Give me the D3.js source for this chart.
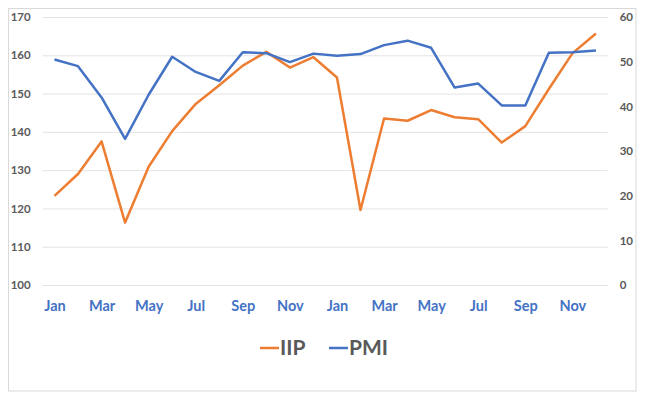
<!DOCTYPE html>
<html>
<head>
<meta charset="utf-8">
<script src="https://cdn.jsdelivr.net/npm/d3@7"></script>
<style>
  body { margin: 0; background: #fff; }
  text { font-family: Lato, "Open Sans", sans-serif; font-weight: bold; }
</style>
</head>
<body>
<div id="chart"></div>
<script>
var width = 647, height = 399;

// two years of monthly data
var months = ["Jan","Feb","Mar","Apr","May","Jun","Jul","Aug","Sep","Oct","Nov","Dec",
              "Jan","Feb","Mar","Apr","May","Jun","Jul","Aug","Sep","Oct","Nov","Dec"];
var iip = [123.3, 129.0, 137.5, 116.3, 130.9, 140.2, 147.3, 152.2, 157.3, 160.9, 156.8, 159.5,
           154.2, 119.6, 143.5, 142.9, 145.7, 143.8, 143.3, 137.2, 141.5, 151.2, 160.5, 165.7];
var pmi = [50.5, 49.0, 42.0, 32.7, 42.6, 51.1, 47.7, 45.7, 52.1, 51.9, 49.9, 51.8,
           51.3, 51.7, 53.7, 54.7, 53.1, 44.2, 45.1, 40.2, 40.2, 52.0, 52.1, 52.5];
var leftTicks = [100, 110, 120, 130, 140, 150, 160, 170];
var rightTicks = [0, 10, 20, 30, 40, 50, 60];
var seriesNames = ["IIP", "PMI"];
var colors = {IIP: "#ED7D31", PMI: "#4472C4"};

var idx = d3.range(months.length);
var plot = {left: 42.7, right: 607.7, top: 17, bottom: 285};

var svg = d3.select("#chart").append("svg")
    .attr("width", width)
    .attr("height", height);

// outer chart border
svg.append("rect")
    .attr("x", 8.5).attr("y", 8.5)
    .attr("width", 627.5).attr("height", 382.5)
    .attr("fill", "none")
    .attr("stroke", "#D9D9D9");

var x = d3.scalePoint()
    .domain(idx)
    .range([plot.left, plot.right])
    .padding(0.5);
var yL = d3.scaleLinear().domain([100, 170]).range([plot.bottom, plot.top]);
var yR = d3.scaleLinear().domain([0, 60]).range([plot.bottom, plot.top]);

// gridlines
svg.append("g")
    .attr("transform", "translate(" + plot.left + ",0)")
    .call(d3.axisLeft(yL).tickValues(leftTicks).tickSize(-(plot.right - plot.left)).tickFormat(""))
    .call(g => g.select(".domain").remove())
    .selectAll("line").attr("stroke", "#E3E3E3");

// left axis labels
svg.append("g")
    .attr("transform", "translate(" + plot.left + ",0)")
    .call(d3.axisLeft(yL).tickValues(leftTicks).tickSize(0).tickPadding(12))
    .call(g => g.select(".domain").remove())
    .selectAll("text")
    .attr("fill", "#595959")
    .style("font-size", "11.5px");

// right axis labels
svg.append("g")
    .attr("transform", "translate(" + plot.right + ",0)")
    .call(d3.axisRight(yR).tickValues(rightTicks).tickSize(0).tickPadding(12))
    .call(g => g.select(".domain").remove())
    .selectAll("text")
    .attr("fill", "#595959")
    .style("font-size", "11.5px");

// x axis, every other month
svg.append("g")
    .attr("transform", "translate(0," + plot.bottom + ")")
    .call(d3.axisBottom(x)
        .tickValues(idx.filter(i => i % 2 === 0))
        .tickFormat(i => months[i])
        .tickSize(0).tickPadding(16))
    .call(g => g.select(".domain").remove())
    .selectAll("text")
    .attr("fill", "#4472C4")
    .style("font-size", "14.5px");

var lineL = d3.line().x((d, i) => x(i)).y(d => yL(d));
var lineR = d3.line().x((d, i) => x(i)).y(d => yR(d));

svg.append("path")
    .datum(iip)
    .attr("d", lineL)
    .attr("fill", "none")
    .attr("stroke", colors.IIP)
    .attr("stroke-width", 2.5)
    .attr("stroke-linejoin", "round");

svg.append("path")
    .datum(pmi)
    .attr("d", lineR)
    .attr("fill", "none")
    .attr("stroke", colors.PMI)
    .attr("stroke-width", 2.5)
    .attr("stroke-linejoin", "round");

// legend
var legendX = [260, 329];
var legend = svg.append("g")
    .selectAll("g")
    .data(seriesNames)
    .enter()
    .append("g")
    .attr("transform", (d, i) => "translate(" + legendX[i] + ",348)");
legend.append("line")
    .attr("x1", 0).attr("x2", 19)
    .attr("stroke", d => colors[d])
    .attr("stroke-width", 2.5);
legend.append("text")
    .attr("x", 20)
    .attr("dy", "0.35em")
    .attr("fill", "#595959")
    .style("font-size", "21px")
    .text(d => d);
</script>
</body>
</html>
